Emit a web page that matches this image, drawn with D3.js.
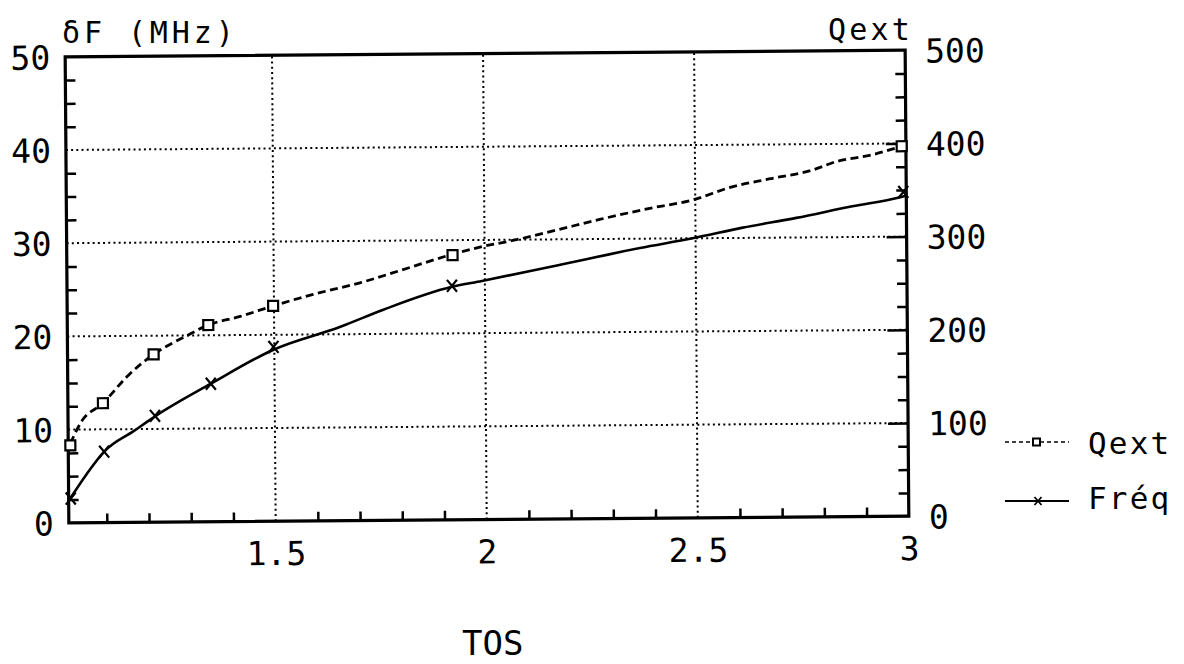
<!DOCTYPE html>
<html>
<head>
<meta charset="utf-8">
<script src="https://cdn.jsdelivr.net/npm/d3@7"></script>
<style>
  body { margin: 0; background: #fff; }
  text { font-family: "DejaVu Sans Mono", monospace; fill: #000; }
</style>
</head>
<body>
<svg id="chart" width="1184" height="664"></svg>
<script>
// Measured points (markers)
const tosFreqPts  = [1.015, 1.095, 1.216, 1.349, 1.498, 1.922, 2.993];
const freqPts     = [2.6, 7.6, 11.4, 14.8, 18.7, 25.1, 34.8];          // δF, MHz
const tosQextPts  = [1.015, 1.093, 1.214, 1.344, 1.498, 1.924, 2.99];
const qextPts     = [83, 128, 180, 211, 231, 284, 397];                 // Qext

// Fitted curves
const tosFreqCurve = [1.012, 1.053, 1.095, 1.166, 1.218, 1.349, 1.498, 1.657, 1.759, 1.922, 1.993, 2.171, 2.368, 2.493, 2.612, 2.739, 2.872, 2.983, 3.0];
const freqCurve    = [2.5, 5.2, 7.6, 9.8, 11.4, 14.8, 18.4, 20.8, 22.6, 25.0, 25.6, 27.2, 29.0, 30.0, 31.1, 32.1, 33.3, 34.2, 34.4];
const tosQextCurve = [1.015, 1.041, 1.093, 1.152, 1.214, 1.294, 1.344, 1.420, 1.498, 1.593, 1.704, 1.815, 1.917, 1.996, 2.076, 2.171, 2.273, 2.398, 2.493, 2.581, 2.675, 2.777, 2.834, 2.919, 2.99];
const qextCurve    = [85, 108, 128, 157, 180, 200, 211, 220, 231, 243, 255, 270, 284, 293, 300, 310, 321, 333, 341, 354, 363, 372, 381, 388, 397];

// Axis ticks and labels
const tosLabelTicks = [1.5, 2, 2.5, 3];
const tosLabels     = ["1.5", "2", "2.5", "3"];
const tosGrid       = [1.5, 2, 2.5];
const freqTicks     = [0, 10, 20, 30, 40, 50];
const qextTicks     = [0, 100, 200, 300, 400, 500];
const seriesNames   = ["Qext", "Fréq"];

const svg = d3.select("#chart");
const FONT = "DejaVu Sans Mono, monospace";

const x  = d3.scaleLinear().domain([1.01, 3]).range([67, 907]);
const yL = d3.scaleLinear().domain([0, 50]).range([519.5, 53.5]);
const yR = d3.scaleLinear().domain([0, 500]).range([519.5, 53.5]);

const [x0, x1] = x.range();
const [yb, yt] = yL.range();

// plot body, slightly tilted like the plotter sheet
const g = svg.append("g").attr("transform", "rotate(-0.45,487,287)");

// dotted grid
g.append("g").selectAll("line").data(freqTicks.filter(d => d > 0 && d < 50)).join("line")
  .attr("x1", x0).attr("x2", x1).attr("y1", d => yL(d)).attr("y2", d => yL(d))
  .attr("stroke", "#000").attr("stroke-width", 2).attr("stroke-dasharray", "2,3.2");
g.append("g").selectAll("line").data(tosGrid).join("line")
  .attr("x1", d => x(d)).attr("x2", d => x(d)).attr("y1", yb).attr("y2", yt)
  .attr("stroke", "#000").attr("stroke-width", 2).attr("stroke-dasharray", "2,3.2");

// minor ticks
const yMinor = d3.range(2.5, 50, 2.5).filter(v => Math.abs(v % 10) > 1e-6);
const xMinor = d3.range(11, 30).map(v => v / 10).filter(v => !tosGrid.some(t => Math.abs(t - v) < 1e-6));

function styleAxis(sel) {
  sel.select(".domain").remove();
  sel.selectAll(".tick line").attr("stroke", "#000").attr("stroke-width", 2.5);
  sel.attr("font-family", FONT).attr("font-size", 33);
  sel.selectAll("text").attr("fill", "#000");
}

g.append("g").attr("transform", `translate(${x0},0)`)
  .call(d3.axisRight(yL).tickValues(yMinor).tickSize(10).tickFormat(""))
  .call(styleAxis);
g.append("g").attr("transform", `translate(${x1},0)`)
  .call(d3.axisLeft(yL).tickValues(yMinor).tickSize(10).tickFormat(""))
  .call(styleAxis);
g.append("g").attr("transform", `translate(${x1},0)`)
  .call(d3.axisLeft(yR).tickValues([100, 200, 300, 400]).tickSize(20).tickFormat(""))
  .call(styleAxis);
g.append("g").attr("transform", `translate(0,${yb})`)
  .call(d3.axisTop(x).tickValues(xMinor).tickSize(9).tickFormat(""))
  .call(styleAxis);

// tick labels
g.append("g").attr("transform", `translate(${x0},0)`)
  .call(d3.axisLeft(yL).tickValues(freqTicks).tickSize(0).tickPadding(15).tickFormat(d3.format("d")))
  .call(styleAxis)
  .selectAll("text").attr("dy", "0.36em");
g.append("g").attr("transform", `translate(${x1},0)`)
  .call(d3.axisRight(yR).tickValues(qextTicks).tickSize(0).tickPadding(20).tickFormat(d3.format("d")))
  .call(styleAxis)
  .selectAll("text").attr("dy", "0.36em");
g.append("g").attr("transform", `translate(0,${yb})`)
  .call(d3.axisBottom(x).tickValues(tosLabelTicks).tickSize(0).tickPadding(0)
        .tickFormat((d, i) => tosLabels[i]))
  .call(styleAxis)
  .selectAll("text").attr("y", 32).attr("dy", "0.36em");

// frame
g.append("rect").attr("x", x0).attr("y", yt).attr("width", x1 - x0).attr("height", yb - yt)
  .attr("fill", "none").attr("stroke", "#000").attr("stroke-width", 3.2);

// curves
const lineL = d3.line().x(d => x(d[0])).y(d => yL(d[1])).curve(d3.curveMonotoneX);
const lineR = d3.line().x(d => x(d[0])).y(d => yR(d[1])).curve(d3.curveMonotoneX);

g.append("path").datum(d3.zip(tosQextCurve, qextCurve)).attr("d", lineR)
  .attr("fill", "none").attr("stroke", "#000").attr("stroke-width", 2.8)
  .attr("stroke-dasharray", "8,4.5");
g.append("path").datum(d3.zip(tosFreqCurve, freqCurve)).attr("d", lineL)
  .attr("fill", "none").attr("stroke", "#000").attr("stroke-width", 2.6);

// markers
const crossPath = "M-5,-6L5,6M-5,6L5,-6";
g.append("g").selectAll("rect").data(d3.zip(tosQextPts, qextPts)).join("rect")
  .attr("x", d => x(d[0]) - 5).attr("y", d => yR(d[1]) - 5)
  .attr("width", 10).attr("height", 10)
  .attr("fill", "#fff").attr("stroke", "#000").attr("stroke-width", 2.2);
g.append("g").selectAll("path").data(d3.zip(tosFreqPts, freqPts)).join("path")
  .attr("transform", d => `translate(${x(d[0])},${yL(d[1])})`)
  .attr("d", crossPath).attr("fill", "none").attr("stroke", "#000").attr("stroke-width", 2.2);

// axis titles
svg.append("text").attr("x", 62).attr("y", 43).attr("font-size", 30)
  .attr("letter-spacing", 3.9).text("δF (MHz)");
svg.append("text").attr("x", 828).attr("y", 40).attr("font-size", 30)
  .attr("letter-spacing", 3.2).text("Qext");
svg.append("text").attr("x", 462).attr("y", 655).attr("font-size", 34)
  .text("TOS");

// legend
const leg = svg.append("g");
const legY = [442, 501];
leg.selectAll("line").data(legY).join("line")
  .attr("x1", 1005).attr("x2", 1069).attr("y1", d => d).attr("y2", d => d)
  .attr("stroke", "#000").attr("stroke-width", (d, i) => i === 0 ? 1.6 : 2)
  .attr("stroke-dasharray", (d, i) => i === 0 ? "4,3" : null);
leg.append("rect").attr("x", 1033).attr("y", legY[0] - 3.5).attr("width", 7).attr("height", 7)
  .attr("fill", "#fff").attr("stroke", "#000").attr("stroke-width", 2);
leg.append("path").attr("transform", `translate(1038,${legY[1]})`)
  .attr("d", "M-3.5,-4L3.5,4M-3.5,4L3.5,-4").attr("stroke", "#000").attr("stroke-width", 1.8);
leg.selectAll("text").data(seriesNames).join("text")
  .attr("x", 1088).attr("y", (d, i) => [454, 509][i])
  .attr("font-size", 31).attr("letter-spacing", 2.2).text(d => d);
</script>
</body>
</html>
